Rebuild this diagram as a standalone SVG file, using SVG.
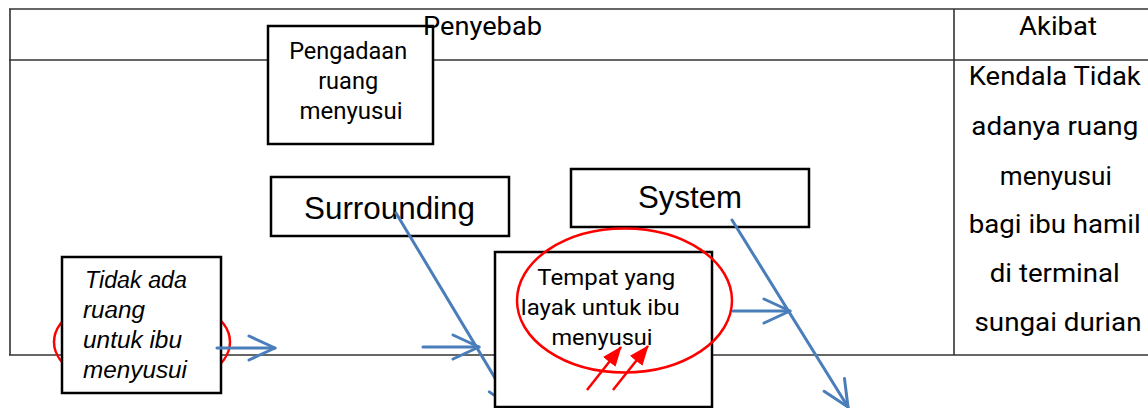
<svg xmlns="http://www.w3.org/2000/svg" width="1148" height="408" viewBox="0 0 1148 408">
<style>
.tl{stroke:#333;stroke-width:1.6;fill:none}
.box{fill:#fff;stroke:#000;stroke-width:2.5}
.rb{font-family:Roboto,"Liberation Sans",sans-serif;fill:#000}
.ls{font-family:"Liberation Sans",Arial,sans-serif;fill:#000}
.it{font-style:italic}
.blue{stroke:#4A7EBB;stroke-width:3;fill:none;stroke-linecap:round}
.red{stroke:#FF0000;stroke-width:2.5;fill:none}
</style>
<defs>
<marker id="openArrow" markerUnits="userSpaceOnUse" viewBox="0 0 30 28" markerWidth="30" markerHeight="28" refX="28" refY="14" orient="auto">
<path d="M2,2 L28,14 L2,26" fill="none" stroke="#4A7EBB" stroke-width="3" stroke-linecap="round" stroke-linejoin="round"/>
</marker>
<marker id="redArrow" markerUnits="userSpaceOnUse" viewBox="0 0 20 16" markerWidth="20" markerHeight="16" refX="19" refY="8" orient="auto">
<path d="M0,0 L20,8 L0,16 Z" fill="#FF0000"/>
</marker>
</defs>

<g id="table">
<line class="tl" x1="9" y1="9" x2="1148" y2="9"/>
<line class="tl" x1="9" y1="60" x2="1148" y2="60"/>
<line class="tl" x1="9" y1="355" x2="1148" y2="355"/>
<line class="tl" x1="10" y1="9" x2="10" y2="355" stroke-width="2"/>
<line class="tl" x1="954" y1="9" x2="954" y2="355"/>
</g>

<g id="pengadaan">
<rect class="box" x="268" y="26" width="165" height="118"/>
<text class="rb" font-size="23" text-anchor="middle">
<tspan x="351" y="59" textLength="118" lengthAdjust="spacingAndGlyphs">Pengadaan</tspan>
<tspan x="351" y="89" textLength="60" lengthAdjust="spacingAndGlyphs">ruang</tspan>
<tspan x="351" y="119" textLength="103" lengthAdjust="spacingAndGlyphs">menyusui</tspan>
</text>
</g>

<g id="header">
<text class="rb" font-size="26" x="482.5" y="35" text-anchor="middle" textLength="119" lengthAdjust="spacingAndGlyphs">Penyebab</text>
<text class="rb" font-size="26" x="1058" y="35" text-anchor="middle" textLength="78" lengthAdjust="spacingAndGlyphs">Akibat</text>
</g>

<g id="akibat">
<text class="rb" font-size="26" text-anchor="middle">
<tspan x="1058" y="85" textLength="172" lengthAdjust="spacingAndGlyphs">Kendala Tidak</tspan>
<tspan x="1058" y="135" textLength="167" lengthAdjust="spacingAndGlyphs">adanya ruang</tspan>
<tspan x="1059" y="185" textLength="112" lengthAdjust="spacingAndGlyphs">menyusui</tspan>
<tspan x="1058" y="233" textLength="172" lengthAdjust="spacingAndGlyphs">bagi ibu hamil</tspan>
<tspan x="1058" y="282" textLength="130" lengthAdjust="spacingAndGlyphs">di terminal</tspan>
<tspan x="1058" y="331" textLength="167" lengthAdjust="spacingAndGlyphs">sungai durian</tspan>
</text>
</g>

<g id="tidak">
<ellipse class="red" cx="142" cy="342" rx="88" ry="48"/>
<rect class="box" x="62" y="257" width="159" height="136"/>
<text class="ls it" font-size="23.5">
<tspan x="85" y="288" textLength="102" lengthAdjust="spacingAndGlyphs">Tidak ada</tspan>
<tspan x="83" y="318" textLength="62" lengthAdjust="spacingAndGlyphs">ruang</tspan>
<tspan x="83" y="348" textLength="99" lengthAdjust="spacingAndGlyphs">untuk ibu</tspan>
<tspan x="83" y="378" textLength="104" lengthAdjust="spacingAndGlyphs">menyusui</tspan>
</text>
</g>

<g id="surrounding">
<rect class="box" x="271" y="177" width="238" height="59"/>
<text class="ls" font-size="31" x="304" y="219" textLength="171" lengthAdjust="spacingAndGlyphs">Surrounding</text>
</g>

<g id="system">
<rect class="box" x="571" y="169" width="238" height="58"/>
<text class="ls" font-size="31" x="638" y="208" textLength="104" lengthAdjust="spacingAndGlyphs">System</text>
</g>

<g id="connectors">
<line class="blue" x1="217" y1="348" x2="275" y2="348" marker-end="url(#openArrow)"/>
<line class="blue" x1="423" y1="347" x2="479" y2="347" marker-end="url(#openArrow)"/>
<line class="blue" x1="396" y1="213" x2="513" y2="408" marker-end="url(#openArrow)"/>
<line class="blue" x1="733" y1="311" x2="790" y2="311" marker-end="url(#openArrow)"/>
<line class="blue" x1="732" y1="220" x2="848" y2="407" marker-end="url(#openArrow)"/>
</g>

<g id="tempat">
<rect class="box" x="495" y="252" width="217" height="155"/>
<text class="rb" font-size="21.5" text-anchor="middle">
<tspan x="609" y="285" textLength="138" lengthAdjust="spacingAndGlyphs">Tempat yang</tspan>
<tspan x="603" y="315" textLength="159" lengthAdjust="spacingAndGlyphs">layak untuk ibu</tspan>
<tspan x="602" y="345" textLength="101" lengthAdjust="spacingAndGlyphs">menyusui</tspan>
</text>
<ellipse class="red" cx="624.5" cy="300.5" rx="107.5" ry="72"/>
</g>

<g id="red-arrows">
<line stroke="#FF0000" stroke-width="2.5" x1="587" y1="390" x2="621" y2="347" marker-end="url(#redArrow)"/>
<line stroke="#FF0000" stroke-width="2.5" x1="613" y1="390" x2="648" y2="346" marker-end="url(#redArrow)"/>
</g>
</svg>
